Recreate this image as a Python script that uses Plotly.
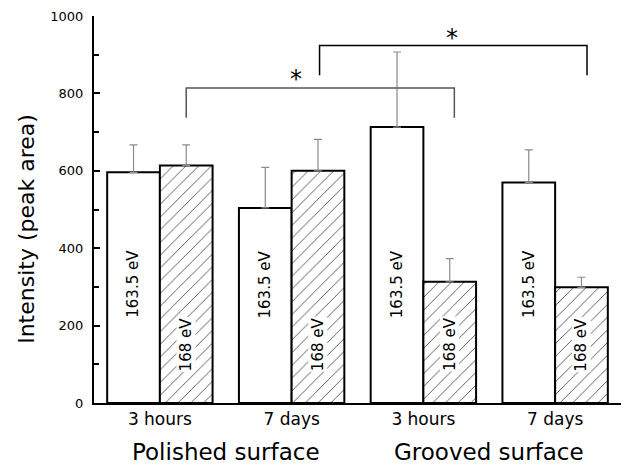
import plotly.graph_objects as go

# Sulfur XPS peak areas (mean with upward SD) per surface and immersion time
categories = ["3 hours", "7 days", "3 hours", "7 days"]
groups = ["Polished surface", "Grooved surface"]
peak_1635 = [596, 504, 713, 570]
peak_1635_sd = [71, 105, 194, 84]
peak_168 = [614, 600, 313, 299]
peak_168_sd = [53, 81, 60, 26]
y_ticks = [0, 200, 400, 600, 800, 1000]

FONT = "DejaVu Sans"
xs = list(range(len(categories)))

fig = go.Figure()
fig.add_trace(go.Bar(
    x=xs, y=peak_1635, name="163.5 eV",
    marker=dict(color="white", line=dict(color="black", width=2)),
    error_y=dict(type="data", symmetric=False, array=peak_1635_sd,
                 arrayminus=[0] * len(xs), color="#8a8a8a", thickness=1.2, width=4),
))
fig.add_trace(go.Bar(
    x=xs, y=peak_168, name="168 eV",
    marker=dict(color="white", line=dict(color="black", width=2),
                pattern=dict(shape="/", size=9, solidity=0.08, fgopacity=1,
                             fgcolor="#222222", bgcolor="white")),
    error_y=dict(type="data", symmetric=False, array=peak_168_sd,
                 arrayminus=[0] * len(xs), color="#8a8a8a", thickness=1.2, width=4),
))

annotations = []
# vertical labels inside the bars
for i in xs:
    annotations.append(dict(x=i - 0.2, y=307, xref="x", yref="y", text="163.5 eV",
                            textangle=-90, showarrow=False,
                            font=dict(family=FONT, size=15, color="black")))
    annotations.append(dict(x=i + 0.2, y=152, xref="x", yref="y", text="168 eV",
                            textangle=-90, showarrow=False, bgcolor="white",
                            borderpad=0,
                            font=dict(family=FONT, size=15, color="black")))

# significance brackets
brackets = [
    dict(x0=0.2, x1=2.235, top=814, bottom=737, color="#555555", star_x=1.03, star_y=836),
    dict(x0=1.212, x1=3.242, top=924, bottom=847, color="black", star_x=2.215, star_y=944),
]
shapes = []
for b in brackets:
    shapes.append(dict(type="path", xref="x", yref="y",
                       path=f"M {b['x0']},{b['bottom']} L {b['x0']},{b['top']} "
                            f"L {b['x1']},{b['top']} L {b['x1']},{b['bottom']}",
                       line=dict(color=b["color"], width=1.5)))
    annotations.append(dict(x=b["star_x"], y=b["star_y"], xref="x", yref="y", text="*",
                            showarrow=False, yanchor="middle",
                            font=dict(family=FONT, size=24, color="#000000")))

# surface group labels below the axis
for k, g in enumerate(groups):
    annotations.append(dict(x=2 * k + 0.5, y=0, xref="x", yref="paper", text=g,
                            showarrow=False, yanchor="top", yshift=-34,
                            font=dict(family=FONT, size=23, color="black")))

# y axis title
annotations.append(dict(x=0, y=0.45, xref="paper", yref="paper",
                        text="Intensity (peak area)", textangle=-90, showarrow=False,
                        xanchor="center", xshift=-67,
                        font=dict(family=FONT, size=22, color="black")))

fig.update_layout(
    width=626, height=465,
    margin=dict(l=94, r=4.5, t=16, b=62),
    paper_bgcolor="white", plot_bgcolor="white",
    barmode="group", bargap=0.2, bargroupgap=0,
    showlegend=False,
    annotations=annotations, shapes=shapes,
    xaxis=dict(range=[-0.5, 3.5], tickvals=xs, ticktext=categories,
               showline=True, linecolor="black", linewidth=2, ticks="",
               showgrid=False, zeroline=False,
               tickfont=dict(family=FONT, size=17, color="black")),
    yaxis=dict(range=[0, 1000], tickvals=y_ticks, showline=True, linecolor="black",
               linewidth=2, ticks="inside", ticklen=6, tickwidth=1.5, tickcolor="black",
               minor=dict(dtick=100, ticks="inside", ticklen=5, tickwidth=1.5, tickcolor="black"),
               showgrid=False, zeroline=False, ticklabelstandoff=6,
               tickfont=dict(family=FONT, size=13, color="black")),
)

fig.write_html("out.html")
